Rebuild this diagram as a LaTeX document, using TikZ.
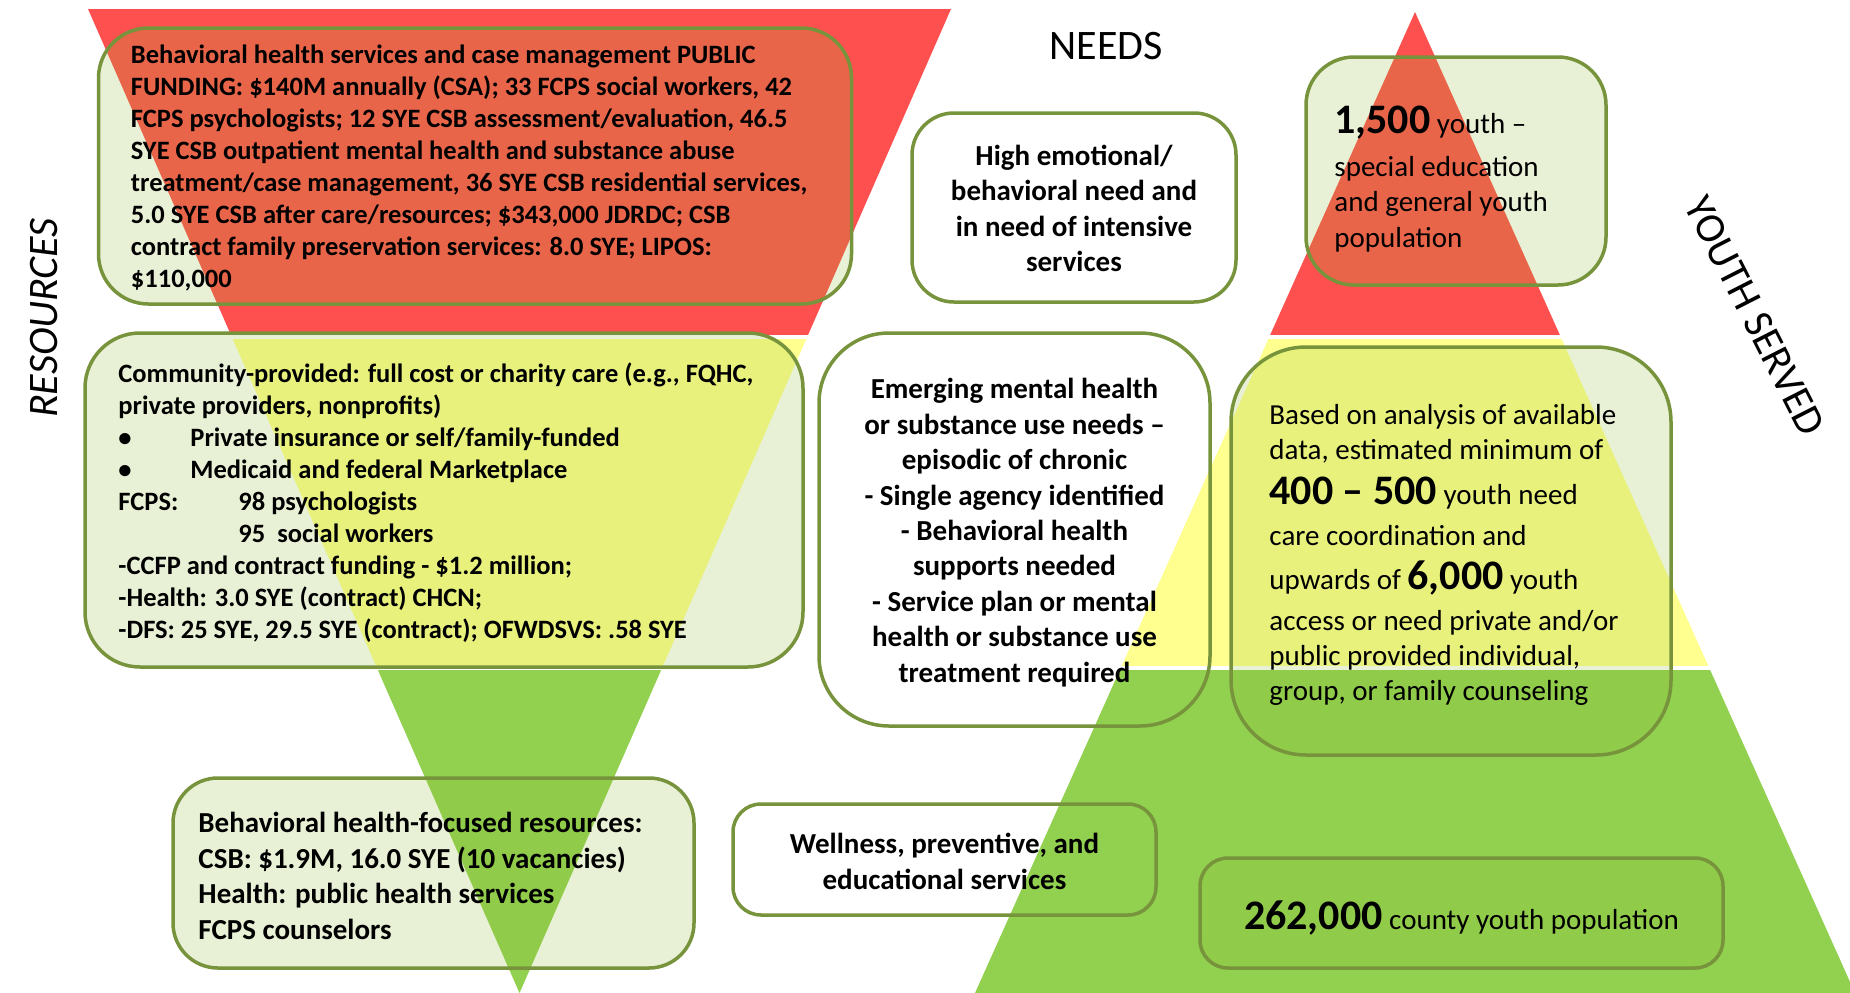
\documentclass[tikz,border=0pt]{standalone}
\usepackage{fontspec}
\setmainfont{Carlito}
\usepackage{tikz}
\usetikzlibrary{positioning}
\definecolor{needred}{RGB}{255,80,80}
\definecolor{needyellow}{RGB}{255,255,143}
\definecolor{needgreen}{RGB}{146,208,80}
\definecolor{boxborder}{RGB}{119,147,60}
\definecolor{boxfill}{RGB}{140,185,50}

\newcommand{\bignum}[1]{{\fontsize{42}{42}\selectfont\bfseries #1}}

\begin{document}
\begin{tikzpicture}[
        x=1pt, y=-1pt,
        tierbox/.style={draw=boxborder, line width=3.5pt, rounded corners=#1, inner sep=0pt},
        tierbox/.default=40pt,
        tinted/.style={fill=boxfill, fill opacity=0.2, text opacity=1},
        smallbold/.style={font=\fontsize{26.5}{32}\selectfont\bfseries, align=left, inner sep=0pt},
        midbold/.style={font=\fontsize{29}{35.4}\selectfont\bfseries, align=center, inner sep=0pt},
        midplain/.style={font=\fontsize{29}{35.4}\selectfont, align=left, inner sep=0pt},
        heading/.style={font=\fontsize{42}{42}\selectfont, inner sep=0pt}
    ]
        \useasboundingbox (0,0) rectangle (1850,993);

        % resources funnel and youth pyramid
        \begin{scope}
            \clip (88,9) -- (951,9) -- (519.5,993) -- cycle;
            \foreach \col/\ya/\yb in {needred/0/335, needyellow/339/666, needgreen/670/993}
                \fill[\col] (0,\ya) rectangle (1850,\yb);
        \end{scope}
        \begin{scope}
            \clip (1415,12) -- (1855,993) -- (975,993) -- cycle;
            \foreach \col/\ya/\yb in {needred/0/335, needyellow/339/666, needgreen/670/993}
                \fill[\col] (0,\ya) rectangle (1850,\yb);
        \end{scope}

        % side labels
        \node[heading, font=\fontsize{42}{42}\selectfont\itshape, rotate=90] (resources) at (44,318) {RESOURCES};
        \node[heading] (needs) at (1106,46) {NEEDS};
        \node[heading, rotate=-63] (served) at (1755,316) {YOUTH SERVED};

        % resources column
        \node[tierbox=50pt, tinted, minimum width=753pt, minimum height=276pt] (boxa) at (475,166) {};
        \node[smallbold, anchor=west] (atext) at ([xshift=34pt, yshift=-2pt]boxa.west) {%
            Behavioral health services and case management PUBLIC\\
            FUNDING: \$140M annually (CSA); 33 FCPS social workers, 42\\
            FCPS psychologists; 12 SYE CSB assessment/evaluation, 46.5\\
            SYE CSB outpatient mental health and substance abuse\\
            treatment/case management, 36 SYE CSB residential services,\\
            5.0 SYE CSB after care/resources; \$343,000 JDRDC; CSB\\
            contract family preservation services: 8.0 SYE; LIPOS:\\
            \$110,000};

        \node[tierbox=55pt, tinted, minimum width=718pt, minimum height=334pt] (boxb) at (444,500) {};
        \node[smallbold, anchor=west] (btext) at ([xshift=35pt, yshift=-3pt]boxb.west) {%
            Community-provided: full cost or charity care (e.g., FQHC,\\
            private providers, nonprofits)\\
            \makebox[72pt][l]{\textbullet}Private insurance or self/family-funded\\
            \makebox[72pt][l]{\textbullet}Medicaid and federal Marketplace\\
            \makebox[120pt][l]{FCPS:}98 psychologists\\
            \hspace*{120pt}95\ \ social workers\\
            -CCFP and contract funding - \$1.2 million;\\
            -Health: 3.0 SYE (contract) CHCN;\\
            -DFS: 25 SYE, 29.5 SYE (contract); OFWDSVS: .58 SYE};

        \node[tierbox=45pt, tinted, minimum width=521pt, minimum height=190pt] (boxc) at (433.5,873) {};
        \node[midbold, align=left, anchor=west] (ctext) at ([xshift=27pt, yshift=-3pt]boxc.west) {%
            Behavioral health-focused resources:\\
            CSB: \$1.9M, 16.0 SYE (10 vacancies)\\
            Health: public health services\\
            FCPS counselors};

        % needs column
        \node[tierbox=42pt, minimum width=324pt, minimum height=189pt] (boxd) at (1074,207.5) {};
        \node[midbold] (dtext) at ([yshift=-1pt]boxd.center) {%
            High emotional/\\
            behavioral need and\\
            in need of intensive\\
            services};

        \node[tierbox=70pt, minimum width=391pt, minimum height=393pt] (boxe) at (1014.5,529.5) {};
        \node[midbold] (etext) at ([yshift=-3pt]boxe.center) {%
            Emerging mental health\\
            or substance use needs --\\
            episodic of chronic\\
            - Single agency identified\\
            - Behavioral health\\
            supports needed\\
            - Service plan or mental\\
            health or substance use\\
            treatment required};

        \node[tierbox=28pt, minimum width=423pt, minimum height=111pt] (boxf) at (944.5,859.5) {};
        \node[midbold] (ftext) at ([yshift=-2pt]boxf.center) {%
            Wellness, preventive, and\\
            educational services};

        % youth served column
        \node[tierbox=48pt, tinted, minimum width=300pt, minimum height=228pt] (boxg) at (1456,171) {};
        \node[midplain, anchor=west] (gtext) at ([xshift=30pt, yshift=-8pt]boxg.west) {%
            \bignum{1,500} youth --\\[7pt]
            special education\\
            and general youth\\
            population};

        \node[tierbox=75pt, tinted, minimum width=440pt, minimum height=408pt] (boxh) at (1451,551) {};
        \node[midplain, anchor=west] (htext) at ([xshift=40pt, yshift=-4pt]boxh.west) {%
            Based on analysis of available\\
            data, estimated minimum of\\[10pt]
            \bignum{400 -- 500} youth need\\[5pt]
            care coordination and\\[9pt]
            upwards of \bignum{6,000} youth\\[5pt]
            access or need private and/or\\
            public provided individual,\\
            group, or family counseling};

        \node[tierbox=28pt, tinted, minimum width=523pt, minimum height=110pt] (boxi) at (1461.5,913) {};
        \node[midplain] (itext) at ([yshift=-5pt]boxi.center) {\bignum{262,000} county youth population};
    \end{tikzpicture}
\end{document}
